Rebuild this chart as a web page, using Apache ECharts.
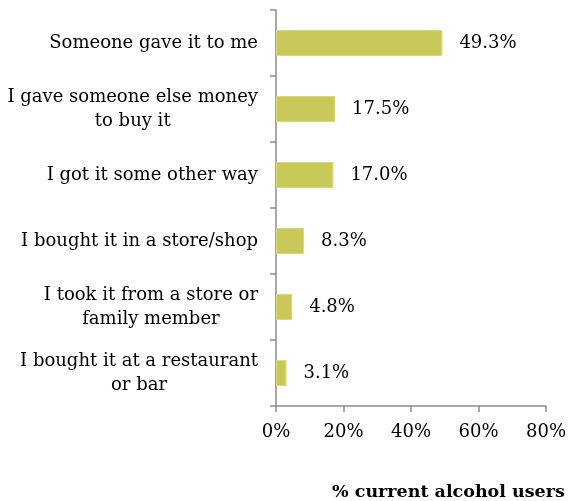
<!DOCTYPE html>
<html><head><meta charset="utf-8">
<script src="https://cdn.jsdelivr.net/npm/echarts@6/dist/echarts.min.js"></script>
<style>html,body{margin:0;padding:0;background:#fff}#c{width:570px;height:501px}</style>
</head><body><div id="c"></div>
<script>
const categories = [
  "Someone gave it to me",
  "I gave someone else money\nto buy it",
  "I got it some other way",
  "I bought it in a store/shop",
  "I took it from a store or\nfamily member",
  "I bought it at a restaurant\nor bar"
];
const values = [49.3, 17.5, 17.0, 8.3, 4.8, 3.1];
const xTicks = [0, 20, 40, 60, 80];
const axisTitle = "% current alcohol users";

const FONT = "DejaVu Serif";
const chart = echarts.init(document.getElementById('c'));
chart.setOption({
  animation: false,
  title: {
    text: axisTitle, left: 327, top: 478,
    textStyle: {fontFamily: FONT, fontSize: 17.5, fontWeight: 'bold', color: '#000'}
  },
  grid: {left: 276, right: 24, top: 10, bottom: 95},
  xAxis: {
    type: 'value', min: xTicks[0], max: xTicks[xTicks.length - 1], interval: 20,
    splitLine: {show: false},
    axisLine: {show: true, lineStyle: {color: '#8c8c8c', width: 1.5}},
    axisTick: {show: true, length: 6, lineStyle: {color: '#8c8c8c', width: 1.5}},
    axisLabel: {margin: 17, fontFamily: FONT, fontSize: 18, color: '#000', formatter: v => v + '%'}
  },
  yAxis: {
    type: 'category', inverse: true, data: categories,
    axisLine: {show: true, lineStyle: {color: '#8c8c8c', width: 1.5}},
    axisTick: {show: true, length: 6, lineStyle: {color: '#8c8c8c', width: 1.5}},
    axisLabel: {
      margin: 18, align: 'right', fontFamily: FONT, fontSize: 18, color: '#000', lineHeight: 24,
      formatter: v => v.split('\n').map(s => '{c|' + s + '}').join('\n'),
      rich: {c: {align: 'center', fontFamily: FONT, fontSize: 18, color: '#000', lineHeight: 24}}
    }
  },
  series: [{
    type: 'bar', data: values, barWidth: 26,
    itemStyle: {color: '#c9c95a', borderColor: '#d8d87a', borderWidth: 1},
    label: {show: true, position: 'right', distance: 17, fontFamily: FONT, fontSize: 18, color: '#000',
      formatter: p => p.value.toFixed(1) + '%'}
  }]
});
</script></body></html>
